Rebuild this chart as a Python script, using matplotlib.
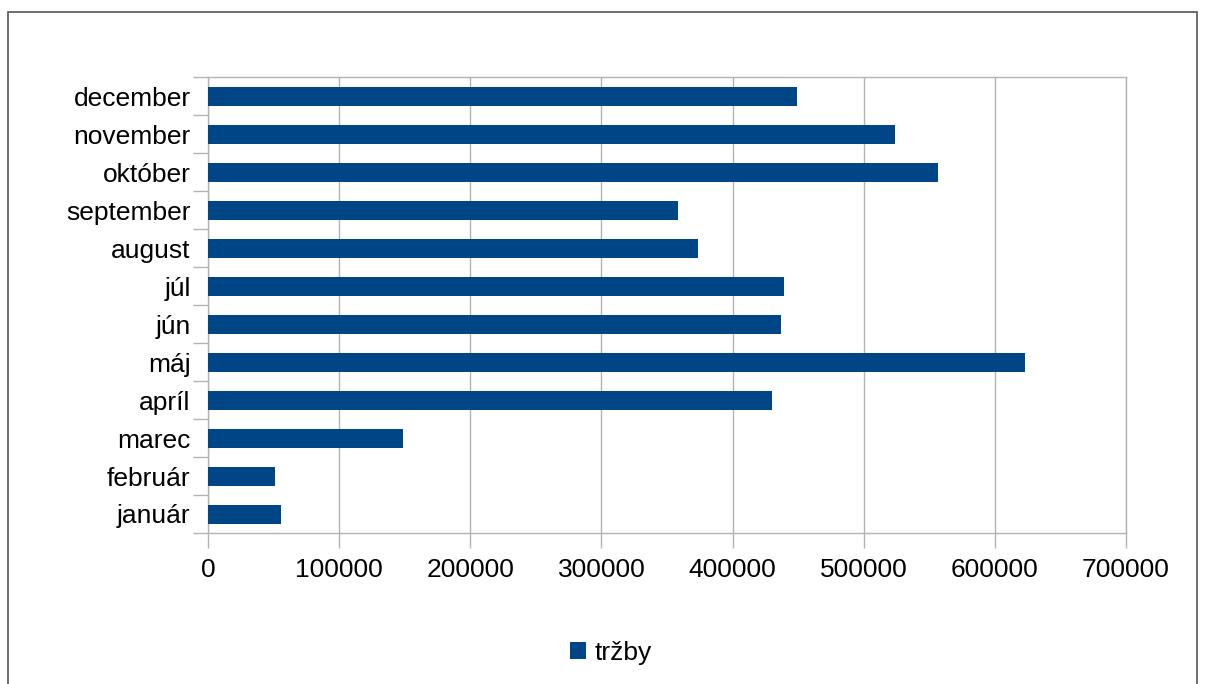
import matplotlib.pyplot as plt
from matplotlib.patches import Rectangle

plt.rcParams['font.family'] = ['Liberation Sans', 'DejaVu Sans']

# monthly sales (tržby)
months = ['január', 'február', 'marec', 'apríl', 'máj', 'jún',
          'júl', 'august', 'september', 'október', 'november', 'december']
trzby = [55600, 51000, 148400, 429900, 622700, 436700,
         439000, 373500, 358200, 556400, 523600, 449000]
xticks = [0, 100000, 200000, 300000, 400000, 500000, 600000, 700000]

fig = plt.figure(figsize=(12.05, 6.84), dpi=100)
# outer chart frame
fig.patches.append(Rectangle((8 / 1205, -0.05), 1189 / 1205, 1.05 - 12 / 684,
                             transform=fig.transFigure, fill=False,
                             edgecolor='#555555', linewidth=1.2))

ax = fig.add_axes([208 / 1205, 1 - 533 / 684, 918 / 1205, 456 / 684])
pos = list(range(len(months)))
ax.barh(pos, trzby, height=0.5, color='#004586', label='tržby', zorder=3)

ax.set_xlim(0, 700000)
ax.set_ylim(-0.5, len(months) - 0.5)
ax.set_xticks(xticks)
ax.set_xticklabels([str(v) for v in xticks])
ax.set_yticks(pos)
ax.set_yticklabels(months)
ax.set_yticks([p - 0.5 for p in range(len(months) + 1)], minor=True)
ax.tick_params(axis='y', which='major', length=0, pad=12.5, labelsize=19)
ax.tick_params(axis='y', which='minor', length=11, color='#b3b3b3', width=1)
ax.tick_params(axis='x', length=11, color='#b3b3b3', width=1, pad=7,
               labelsize=19)
ax.grid(axis='x', color='#b3b3b3', linewidth=1, zorder=0)
for s in ax.spines.values():
    s.set_color('#b3b3b3')
    s.set_linewidth(1)

fig.legend(loc='center', bbox_to_anchor=(611 / 1205, 1 - 653 / 684),
           frameon=False, fontsize=19, handlelength=0.6, handleheight=0.6,
           handletextpad=0.35)

fig.savefig('out.png', dpi=100)
